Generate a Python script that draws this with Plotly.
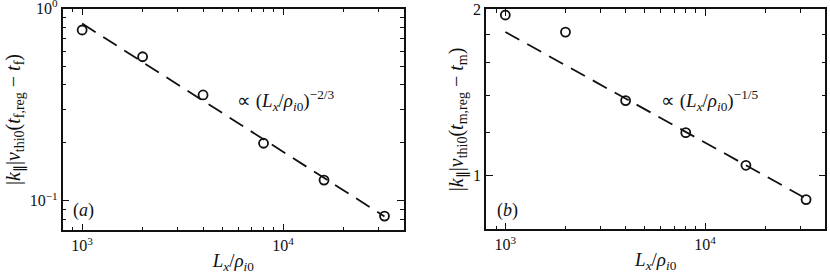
import plotly.graph_objects as go

# ---- data ----
Lx = [1000, 2000, 4000, 8000, 16000, 32000]
panel_a = [0.773, 0.561, 0.355, 0.199, 0.128, 0.0832]
panel_b = [1.953, 1.819, 1.368, 1.197, 1.045, 0.906]

fit_x = [1000, 32000]
fit_a = [0.835, 0.0828]   # ~ (Lx)^(-2/3)
fit_b = [1.82, 0.91]      # ~ (Lx)^(-1/5)

x_major = [1000, 10000]
x_major_text = ["10<sup>3</sup>", "10<sup>4</sup>"]
x_minor = [900, 2000, 3000, 4000, 5000, 6000, 7000, 8000, 9000, 20000, 30000]

ya_major = [0.1, 1]
ya_major_text = ["10<sup>−1</sup>", "10<sup>0</sup>"]
ya_minor = [0.08, 0.09, 0.2, 0.3, 0.4, 0.5, 0.6, 0.7, 0.8, 0.9]

yb_major = [1, 2]
yb_major_text = ["1", "2"]
yb_minor = [1.2, 1.4, 1.6, 1.8]

FONT = "Liberation Serif"
INK = "#111"

fig = go.Figure()

for xa, ya, yv, fy in [("x", "y", panel_a, fit_a), ("x2", "y2", panel_b, fit_b)]:
    fig.add_trace(go.Scatter(
        x=fit_x, y=fy, xaxis=xa, yaxis=ya, mode="lines",
        line=dict(color=INK, width=1.8, dash="16px,9px"),
        showlegend=False, hoverinfo="skip"))
    fig.add_trace(go.Scatter(
        x=Lx, y=yv, xaxis=xa, yaxis=ya, mode="markers",
        marker=dict(symbol="circle-open", size=9, color=INK,
                    line=dict(width=1.8, color=INK)),
        showlegend=False))

def xaxis_cfg(domain, anchor):
    return dict(
        type="log", domain=domain, anchor=anchor, automargin=False,
        range=[2.90309, 4.60206], ticklabeloverflow="allow",
        tickmode="array", tickvals=x_major, ticktext=x_major_text,
        ticks="inside", ticklen=7, tickwidth=1.3, tickcolor=INK,
        minor=dict(tickmode="array", tickvals=x_minor, ticks="inside",
                   ticklen=4, tickwidth=1.2, tickcolor=INK, showgrid=False),
        showline=True, linecolor=INK, linewidth=1.6, mirror="ticks",
        showgrid=False, zeroline=False,
        tickfont=dict(family=FONT, size=16, color=INK),
        title=dict(text="<i>L<sub>x</sub></i>/<i>ρ</i><sub><i>i</i>0</sub>",
                   font=dict(family=FONT, size=19, color=INK), standoff=0),
    )

def yaxis_cfg(domain, anchor, rng, major, text, minor, title):
    return dict(
        type="log", domain=domain, anchor=anchor, range=rng, automargin=False,
        ticklabeloverflow="allow",
        tickmode="array", tickvals=major, ticktext=text,
        ticks="inside", ticklen=7, tickwidth=1.3, tickcolor=INK,
        minor=dict(tickmode="array", tickvals=minor, ticks="inside",
                   ticklen=4, tickwidth=1.2, tickcolor=INK, showgrid=False),
        showline=True, linecolor=INK, linewidth=1.6, mirror="ticks",
        showgrid=False, zeroline=False,
        tickfont=dict(family=FONT, size=16, color=INK),
        title=dict(text=title, font=dict(family=FONT, size=20, color=INK),
                   standoff=4),
    )

title_a = ("|<i>k</i><sub>∥</sub>|<i>v</i><sub>thi0</sub>"
           "(<i>t</i><sub>f,reg</sub> − <i>t</i><sub>f</sub>)")
title_b = ("|<i>k</i><sub>∥</sub>|<i>v</i><sub>thi0</sub>"
           "(<i>t</i><sub>m,reg</sub> − <i>t</i><sub>m</sub>)")

fig.update_layout(
    width=830, height=276,
    margin=dict(l=0, r=0, t=0, b=0),
    paper_bgcolor="white", plot_bgcolor="white",
    font=dict(family=FONT, color=INK),
    xaxis=xaxis_cfg([0.0755, 0.4867], "y"),
    xaxis2=xaxis_cfg([0.5855, 0.9945], "y2"),
    yaxis=yaxis_cfg([0.1649, 0.9692], "x", [-1.1549, 0.0],
                    ya_major, ya_major_text, ya_minor, title_a),
    yaxis2=yaxis_cfg([0.1685, 0.9663], "x2", [-0.09691, 0.30103],
                     yb_major, yb_major_text, yb_minor, title_b),
    annotations=[
        dict(xref="paper", yref="paper", x=235/830, y=1-100/276,
             xanchor="left", yanchor="middle", showarrow=False,
             text="∝ (<i>L<sub>x</sub></i>/<i>ρ</i><sub><i>i</i>0</sub>)<sup>−2/3</sup>",
             font=dict(family=FONT, size=19, color=INK)),
        dict(xref="paper", yref="paper", x=659/830, y=1-100/276,
             xanchor="left", yanchor="middle", showarrow=False,
             text="∝ (<i>L<sub>x</sub></i>/<i>ρ</i><sub><i>i</i>0</sub>)<sup>−1/5</sup>",
             font=dict(family=FONT, size=19, color=INK)),
        dict(xref="paper", yref="paper", x=71/830, y=1-210/276,
             xanchor="left", yanchor="middle", showarrow=False,
             text="(<i>a</i>)", font=dict(family=FONT, size=18, color=INK)),
        dict(xref="paper", yref="paper", x=495/830, y=1-210/276,
             xanchor="left", yanchor="middle", showarrow=False,
             text="(<i>b</i>)", font=dict(family=FONT, size=18, color=INK)),
    ],
)

fig.write_html("out.html",
               config={"displayModeBar": False},
               post_script="document.body.style.margin='0';")
